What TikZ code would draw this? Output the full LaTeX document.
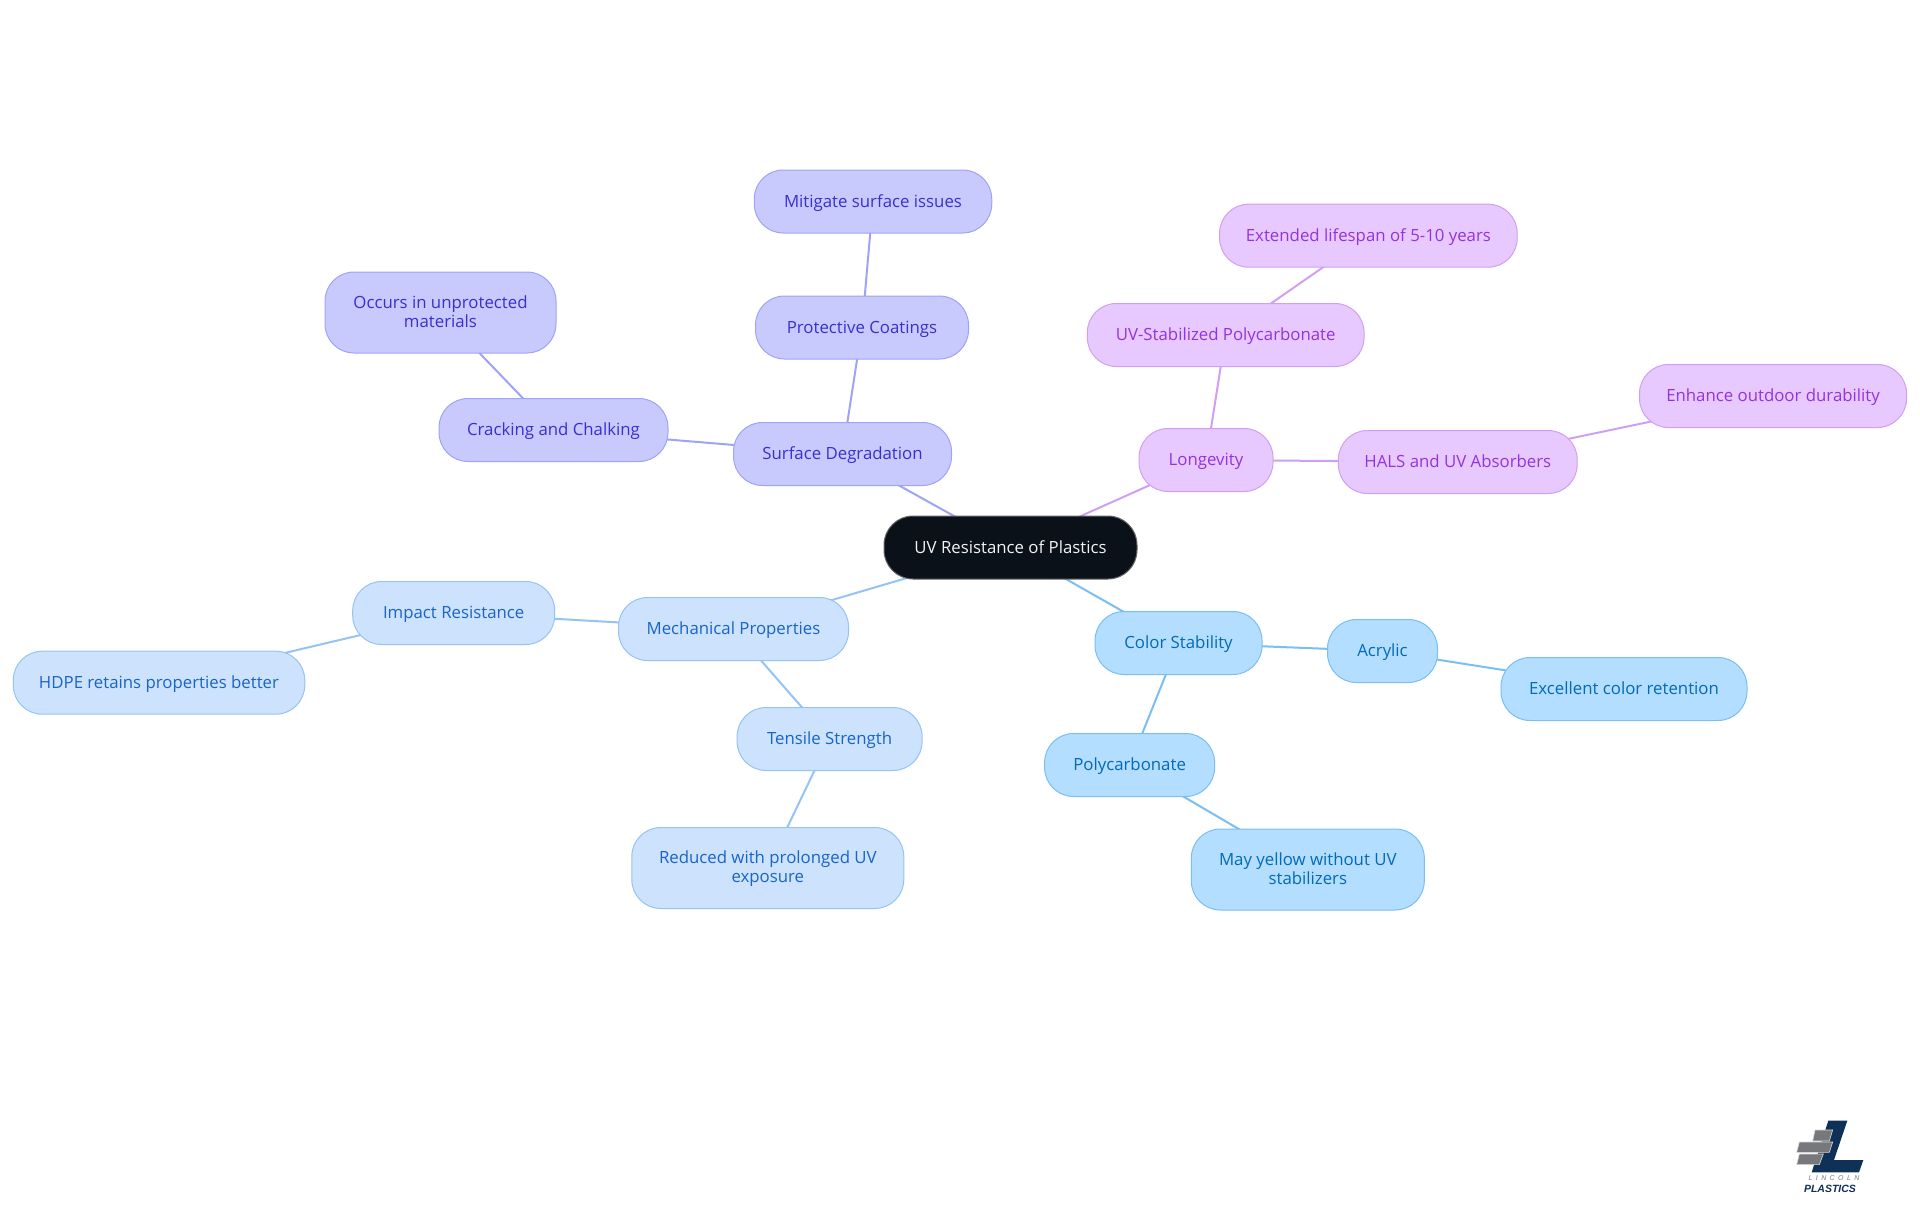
\documentclass[tikz,border=0pt]{standalone}
\usepackage{fontspec}
\setmainfont{Open Sans}
\usetikzlibrary{backgrounds, positioning, shapes}
\definecolor{rootfill}{HTML}{0B1119}
\definecolor{surfacefill}{HTML}{C8CAFE}
\definecolor{surfaceline}{HTML}{9FA3F3}
\definecolor{surfacetext}{HTML}{3730CF}
\definecolor{longfill}{HTML}{E8C9FF}
\definecolor{longline}{HTML}{CFA0F2}
\definecolor{longtext}{HTML}{9333DD}
\definecolor{colorfill}{HTML}{B3DEFF}
\definecolor{colorline}{HTML}{7ABEF2}
\definecolor{colortext}{HTML}{0369B8}
\definecolor{mechfill}{HTML}{CDE2FC}
\definecolor{mechline}{HTML}{96C3F5}
\definecolor{mechtext}{HTML}{1964C8}
\definecolor{logonavy}{HTML}{0F3057}
\definecolor{logogrey}{HTML}{77787B}
\tikzset{
  topic/.style = {draw, line width=1pt, rounded corners=29pt, minimum height=63pt,
                  inner sep=0pt, align=center, text height=15.4pt, text depth=4pt,
                  font=\fontsize{16.8}{19}\selectfont},
  root/.style = {topic, fill=rootfill, draw=black!60!white, text=white!95!black},
  surface/.style = {topic, fill=surfacefill, draw=surfaceline, text=surfacetext},
  longevity/.style = {topic, fill=longfill, draw=longline, text=longtext},
  colorstab/.style = {topic, fill=colorfill, draw=colorline, text=colortext},
  mech/.style = {topic, fill=mechfill, draw=mechline, text=mechtext},
  twoline/.style = {minimum height=81pt, text height=33pt},
  link/.style = {line width=2pt},
  brick/.style = {fill=logogrey, draw=white!85!black, line width=0.6pt},
}

\begin{document}
\begin{tikzpicture}[x=1pt, y=-1pt]
  \useasboundingbox (0, 0) rectangle (1920, 1215);

  % Centre of the map
  \node (uv) [root, minimum width=253pt] at (1010.5, 547.5) {UV Resistance of Plastics};

  % Surface branch
  \node (surf) [surface, minimum width=218pt] at (842.5, 454) {Surface Degradation};
  \node (crack) [surface, minimum width=229pt] at (553.5, 430) {Cracking and Chalking};
  \node (occurs) [surface, twoline, minimum width=231pt] at (440.5, 312.5) {Occurs in unprotected\\materials};
  \node (coat) [surface, minimum width=213pt] at (862, 327.5) {Protective Coatings};
  \node (mitigate) [surface, minimum width=237.5pt] at (873, 201.5) {Mitigate surface issues};

  % Longevity branch
  \node (long) [longevity, minimum width=134pt] at (1206, 460) {Longevity};
  \node (stab) [longevity, minimum width=276.7pt] at (1225.7, 335) {UV-Stabilized Polycarbonate};
  \node (life) [longevity, minimum width=297.6pt] at (1368.4, 235.7) {Extended lifespan of 5-10 years};
  \node (hals) [longevity, minimum width=238.8pt] at (1457.8, 462) {HALS and UV Absorbers};
  \node (enhance) [longevity, minimum width=267pt] at (1773, 396) {Enhance outdoor durability};

  % Colour branch
  \node (color) [colorstab, minimum width=167pt] at (1178.5, 643) {Color Stability};
  \node (acrylic) [colorstab, minimum width=110pt] at (1382.5, 651) {Acrylic};
  \node (retain) [colorstab, minimum width=246pt] at (1624, 689) {Excellent color retention};
  \node (poly) [colorstab, minimum width=170pt] at (1129.6, 765) {Polycarbonate};
  \node (yellow) [colorstab, twoline, minimum width=233pt] at (1307.8, 869.5) {May yellow without UV\\stabilizers};

  % Mechanical branch
  \node (mechp) [mech, minimum width=230pt] at (733.5, 629) {Mechanical Properties};
  \node (impact) [mech, minimum width=202pt] at (453.7, 613) {Impact Resistance};
  \node (hdpe) [mech, minimum width=291.5pt] at (159, 682.7) {HDPE retains properties better};
  \node (tensile) [mech, minimum width=185pt] at (829.6, 739) {Tensile Strength};
  \node (reduced) [mech, twoline, minimum width=272pt] at (767.8, 868) {Reduced with prolonged UV\\exposure};

  % Links run under the nodes
  \begin{pgfonlayer}{background}
    \foreach \a/\b in {uv/surf, surf/crack, crack/occurs, surf/coat, coat/mitigate}
      \draw [link, surfaceline] (\a.center) -- (\b.center);
    \foreach \a/\b in {uv/long, long/stab, stab/life, long/hals, hals/enhance}
      \draw [link, longline] (\a.center) -- (\b.center);
    \foreach \a/\b in {uv/color, color/acrylic, acrylic/retain, color/poly, poly/yellow}
      \draw [link, colorline] (\a.center) -- (\b.center);
    \foreach \a/\b in {uv/mechp, mechp/impact, impact/hdpe, mechp/tensile, tensile/reduced}
      \draw [link, mechline] (\a.center) -- (\b.center);
  \end{pgfonlayer}

  % Logo in the corner
  \begin{scope}[shift={(1760, 1090)}, x=0.3333pt, y=-0.3333pt]
    \fill [logonavy] (205, 92) -- (262, 92) -- (222, 210) -- (310, 210) -- (297, 247)
      -- (155, 247) -- cycle;
    \draw [brick] (165, 120) -- (218, 120) -- (208, 153) -- (158, 153) -- cycle;
    \draw [brick] (118, 156) -- (218, 156) -- (208, 187) -- (110, 187) -- cycle;
    \draw [brick] (118, 192) -- (190, 192) -- (178, 224) -- (110, 224) -- cycle;
    \node (lincoln) [logogrey, inner sep=0pt, font=\fontsize{7}{8}\fontspec{Liberation Sans}\itshape]
      at (222, 265) {L\hspace{3.4pt}I\hspace{3.4pt}N\hspace{3.4pt}C\hspace{3.4pt}O\hspace{3.4pt}L\hspace{3.4pt}N};
    \node (plastics) [logonavy, inner sep=0pt, font=\fontsize{10.5}{12}\fontspec{Liberation Sans}\bfseries\itshape]
      at (210, 296) {PLASTICS};
  \end{scope}
\end{tikzpicture}
\end{document}
